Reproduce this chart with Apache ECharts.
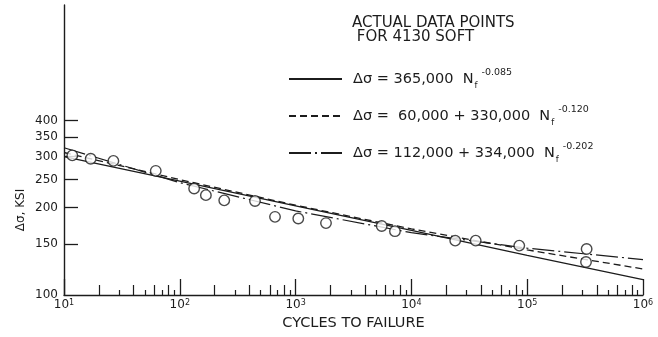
<!DOCTYPE html>
<html>
<head>
<meta charset="utf-8">
<script src="https://cdn.jsdelivr.net/npm/echarts@6/dist/echarts.min.js"></script>
<style>
  html, body { margin: 0; padding: 0; background: #fff; }
  #chart { width: 658px; height: 337px; }
</style>
</head>
<body>
<div id="chart"></div>
<script>
// Test points: cycles to failure and stress range (ksi)
const pointCycles = [11.8, 17, 26.7, 62, 133, 168, 242, 446, 664, 1055, 1830, 5540, 7210, 23900, 35900, 85400, 326000, 322000];
const pointStress = [303, 295, 290, 268, 233, 221, 212, 211, 186, 183.5, 177, 173, 166, 154, 154, 148, 144, 130];

// The three fitted curves, read at each decade
const curveCycles = [10, 100, 1000, 10000, 100000, 1000000];
const powerLaw = [300, 247, 203, 167, 137, 113];
const offsetLaw = [310, 250, 204, 169, 143, 123];
const offsetLaw2 = [322, 244, 195, 164, 145, 132.5];

const curveNames = ['Δσ = 365,000  N', 'Δσ =  60,000 + 330,000  N', 'Δσ = 112,000 + 334,000  N'];
const curveExponents = ['-0.085', '-0.120', '-0.202'];

// Tick labels
const decades = [1, 2, 3, 4, 5, 6];          // log10 of cycles
const stressTicks = [150, 200, 250, 300, 350, 400];
const stressLabels = [100, 150, 200, 250, 300, 350, 400];
const evenSteps = [2, 4, 6, 8];
const oddSteps = [3, 5, 7, 9];

const ink = '#1c1c1c';
const font = 'DejaVu Sans';
const log = Math.log10;

// minor tick positions inside each decade
const minorTicks = steps => {
  const out = [];
  decades.slice(0, -1).forEach(d => steps.forEach(s => out.push(d + log(s))));
  return out;
};

const toXY = (xs, ys) => xs.map((x, i) => [log(x), log(ys[i])]);

const chart = echarts.init(document.getElementById('chart'));

// x axes share the same place, only the tick length differs
const xBase = {
  type: 'value', min: 1, max: 6, position: 'bottom', gridIndex: 0,
  splitLine: { show: false },
  axisLine: { show: false },
  axisLabel: { show: false },
};

chart.setOption({
  animation: false,
  backgroundColor: '#fff',
  grid: { left: 64, right: 15, top: 5, bottom: 42, outerBoundsMode: 'none' },
  title: {
    text: 'ACTUAL DATA POINTS\n FOR 4130 SOFT',
    left: 352, top: 16, padding: 0,
    textStyle: { fontFamily: font, fontSize: 15, fontWeight: 'normal', color: ink, lineHeight: 14 },
  },
  legend: {
    orient: 'vertical', left: 288, top: 68, padding: 0,
    itemWidth: 53, itemHeight: 10, itemGap: 15,
    selectedMode: false,
    data: curveNames,
    itemStyle: { color: 'rgba(0,0,0,0)', borderColor: 'rgba(0,0,0,0)', borderWidth: 0 },
    formatter: name => {
      const i = curveNames.indexOf(name);
      return '{t|' + name + '}{sub|f}{sup|' + curveExponents[i] + '}';
    },
    textStyle: {
      color: ink, fontFamily: font,
      rich: {
        t: { fontFamily: font, fontSize: 14.5, color: ink, lineHeight: 22, padding: [0, 0, 0, 6] },
        sub: { fontFamily: font, fontSize: 8.5, color: ink, lineHeight: 15, verticalAlign: 'bottom', padding: [0, 0, 0, 1] },
        sup: { fontFamily: font, fontSize: 9.5, color: ink, lineHeight: 15, verticalAlign: 'top', padding: [0, 0, 0, 4] },
      },
    },
  },
  graphic: [{
    type: 'text', x: 21, y: 210, rotation: Math.PI / 2,
    style: { text: 'Δσ, KSI', fontFamily: font, fontSize: 12, fill: ink, align: 'center', verticalAlign: 'middle' },
  }],
  xAxis: [
    {
      ...xBase,
      name: 'CYCLES TO FAILURE', nameLocation: 'middle', nameGap: 19,
      nameTextStyle: { fontFamily: font, fontSize: 14.5, color: ink },
      axisLine: { show: true, lineStyle: { color: ink, width: 1.4 } },
      axisTick: { show: true, inside: true, length: 16, customValues: decades, lineStyle: { color: ink, width: 1.3 } },
      axisLabel: {
        show: true, customValues: decades, margin: 4, color: ink, fontFamily: font, fontSize: 12,
        formatter: v => '10{sup|' + v + '}',
        rich: { sup: { fontFamily: font, fontSize: 8, color: ink, lineHeight: 8, verticalAlign: 'top' } },
      },
    },
    { ...xBase, axisTick: { show: true, inside: true, length: 10, customValues: minorTicks(evenSteps), lineStyle: { color: ink, width: 1.2 } } },
    { ...xBase, axisTick: { show: true, inside: true, length: 5, customValues: minorTicks(oddSteps), lineStyle: { color: ink, width: 1.2 } } },
  ],
  yAxis: {
    type: 'value', min: 2, max: 3,
    splitLine: { show: false },
    axisLine: { show: true, lineStyle: { color: ink, width: 1.4 } },
    axisTick: { show: true, inside: true, length: 14, customValues: stressTicks.map(log), lineStyle: { color: ink, width: 1.3 } },
    axisLabel: {
      customValues: stressLabels.map(log), margin: 6, color: ink, fontFamily: font, fontSize: 12,
      formatter: v => String(Math.round(Math.pow(10, v))),
    },
  },
  series: [
    {
      name: curveNames[0], type: 'line', symbol: 'none', data: toXY(curveCycles, powerLaw),
      lineStyle: { color: ink, width: 1.4, type: 'solid' },
    },
    {
      name: curveNames[1], type: 'line', symbol: 'none', data: toXY(curveCycles, offsetLaw),
      lineStyle: { color: ink, width: 1.3, type: [7, 4] },
    },
    {
      name: curveNames[2], type: 'line', symbol: 'none', data: toXY(curveCycles, offsetLaw2),
      lineStyle: { color: ink, width: 1.2, type: [22, 4, 2, 4] },
    },
    {
      name: 'points', type: 'scatter', symbol: 'circle', symbolSize: 10.5, z: 5,
      data: toXY(pointCycles, pointStress),
      itemStyle: { color: '#fff', borderColor: ink, borderWidth: 1.4 },
    },
  ],
});
</script>
</body>
</html>
